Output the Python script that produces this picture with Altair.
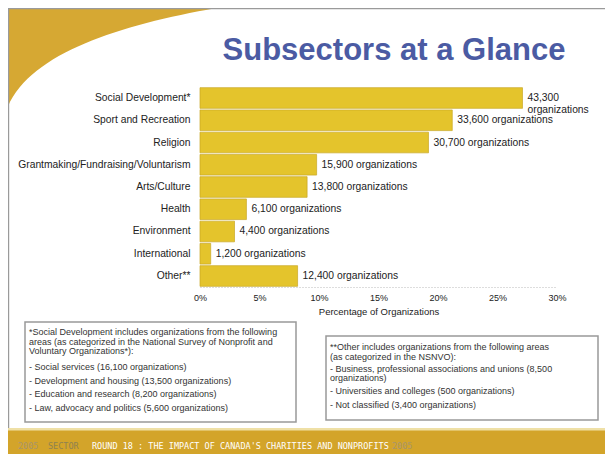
import altair as alt
import pandas as pd

# ---------------- data ----------------
categories = [
    "Social Development*",
    "Sport and Recreation",
    "Religion",
    "Grantmaking/Fundraising/Voluntarism",
    "Arts/Culture",
    "Health",
    "Environment",
    "International",
    "Other**",
]
percentages = [27.1, 21.2, 19.2, 9.8, 9.0, 3.9, 2.9, 0.9, 8.2]
org_labels = [
    "43,300|organizations",
    "33,600 organizations",
    "30,700 organizations",
    "15,900 organizations",
    "13,800 organizations",
    "6,100 organizations",
    "4,400 organizations",
    "1,200 organizations",
    "12,400 organizations",
]
x_ticks = [0, 5, 10, 15, 20, 25, 30]

title_text = "Subsectors at a Glance"
x_title = "Percentage of Organizations"

note1_head = [
    "*Social Development includes organizations from the following",
    "areas (as categorized in the National Survey of Nonprofit and",
    "Voluntary Organizations*):",
]
note1_items = [
    "- Social services (16,100 organizations)",
    "- Development and housing (13,500 organizations)",
    "- Education and research (8,200 organizations)",
    "- Law, advocacy and politics (5,600 organizations)",
]
note2_head = [
    "**Other includes organizations from the following areas",
    "(as categorized in the NSNVO):",
]
note2_item1 = [
    "- Business, professional associations and unions (8,500",
    "organizations)",
]
note2_items = [
    "- Universities and colleges (500 organizations)",
    "- Not classified (3,400 organizations)",
]
footer_parts = ["2005", "SECTOR", "ROUND 18 : THE IMPACT OF CANADA'S CHARITIES AND NONPROFITS", "2005"]

df = pd.DataFrame({"category": categories, "pct": percentages, "label": org_labels})

W, H = 357, 200
PL, PT = 192, 79
FONT = "Liberation Sans"
GOLD = "#d6a833"
one = alt.Data(values=[{"k": 1}])


def rect(x, x2, y, y2, **kw):
    return alt.Chart(one).mark_rect(**kw).encode(
        x=alt.value(x), x2=alt.value(x2), y=alt.value(y), y2=alt.value(y2)
    )


def text(lines, x, y, **kw):
    return alt.Chart(one).mark_text(
        text="|".join(lines) if isinstance(lines, list) else lines,
        lineBreak="|", **kw
    ).encode(x=alt.value(x), y=alt.value(y))


# decorative gold corner: custom symbol path (size=4 -> unit = 1px), anchored at svg origin
corner_path = "M0,-3 L226,-3 C122,14 22,42 -1,101 L-1,-3 Z"
gold_corner = alt.Chart(one).mark_point(
    shape=corner_path, filled=True, color=GOLD, opacity=1, size=4, strokeWidth=0
).encode(x=alt.value(-PL), y=alt.value(-PT))
left_border = rect(-PL, -PL + 1.2, -PT, 380, color="#9a9a9a")
top_border = rect(-PL, 420, -PT, -PT + 1.2, color="#9a9a9a")

title = text(title_text, 194, -36, font=FONT, fontSize=31, fontWeight="bold",
             color="#4b5ba3", align="center", baseline="middle")

bars = alt.Chart(df).mark_bar(color="#e4c42c", stroke="#c9a724", strokeWidth=0.7).encode(
    x=alt.X("pct:Q",
            scale=alt.Scale(domain=[0, 30], nice=False),
            axis=alt.Axis(values=x_ticks, labelExpr="datum.value + '%'",
                          title=x_title, grid=False, ticks=False, zindex=1,
                          labelFlush=False,
                          domainColor="#bbbbbb", domainDash=[1, 2],
                          labelFont=FONT, labelFontSize=9, labelColor="#222",
                          labelPadding=6, titleFont=FONT, titleFontSize=9.5,
                          titleFontWeight="normal", titleColor="#222",
                          titlePadding=4)),
    y=alt.Y("category:N", sort=categories,
            scale=alt.Scale(paddingInner=0.07, paddingOuter=0.03),
            axis=alt.Axis(title=None, ticks=False, domain=False, zindex=1,
                          labelFont=FONT, labelFontSize=10.3, labelColor="#222",
                          labelPadding=10, labelLimit=300)),
)

value_labels = alt.Chart(df).mark_text(
    align="left", baseline="middle", dx=5, font=FONT, fontSize=10.3,
    lineBreak="|", lineHeight=12, color="#222"
).encode(
    x="pct:Q",
    y=alt.Y("category:N", sort=categories),
    text="label:N",
)

box1 = rect(-175, 96, 235, 335, fill="white", stroke="#999999", strokeWidth=1.5)
box2 = rect(126, 398, 249, 333, fill="white", stroke="#999999", strokeWidth=1.5)

nk = dict(font=FONT, fontSize=9, color="#333", align="left", baseline="top")
n1a = text(note1_head, -171, 241, lineHeight=9.6, **nk)
n1b = text(note1_items, -171, 276, lineHeight=13.5, **nk)
n2a = text(note2_head, 130, 256, lineHeight=9.5, **nk)
n2b = text(note2_item1, 130, 278, lineHeight=9.3, **nk)
n2c = text(note2_items, 130, 300, lineHeight=14, **nk)

footer = rect(-PL, 420, 343, 380, color="#d3a42a")
footer_line = rect(-PL, 420, 341, 343.5, color="#efe0a6")
fk = dict(font="DejaVu Sans Mono", fontSize=8.5, align="left", baseline="middle")
f1 = text(footer_parts[0], -182, 359, color="#a8956a", **fk)
f2 = text(footer_parts[1], -152, 359, color="#8f8250", **fk)
f3 = text(footer_parts[2], -108, 359, color="#ffffff", **fk)
f4 = text(footer_parts[3], 192, 359, color="#a8956a", **fk)

chart = alt.layer(
    gold_corner, left_border, top_border, title,
    bars, value_labels,
    box1, box2, n1a, n1b, n2a, n2b, n2c,
    footer, footer_line, f1, f2, f3, f4,
).properties(
    width=W, height=H,
    padding={"left": PL, "top": PT, "right": 48, "bottom": 167},
    autosize="none",
    background="white",
).configure_view(stroke=None)

chart.save("out.html", embed_options={"renderer": "svg", "actions": False})
